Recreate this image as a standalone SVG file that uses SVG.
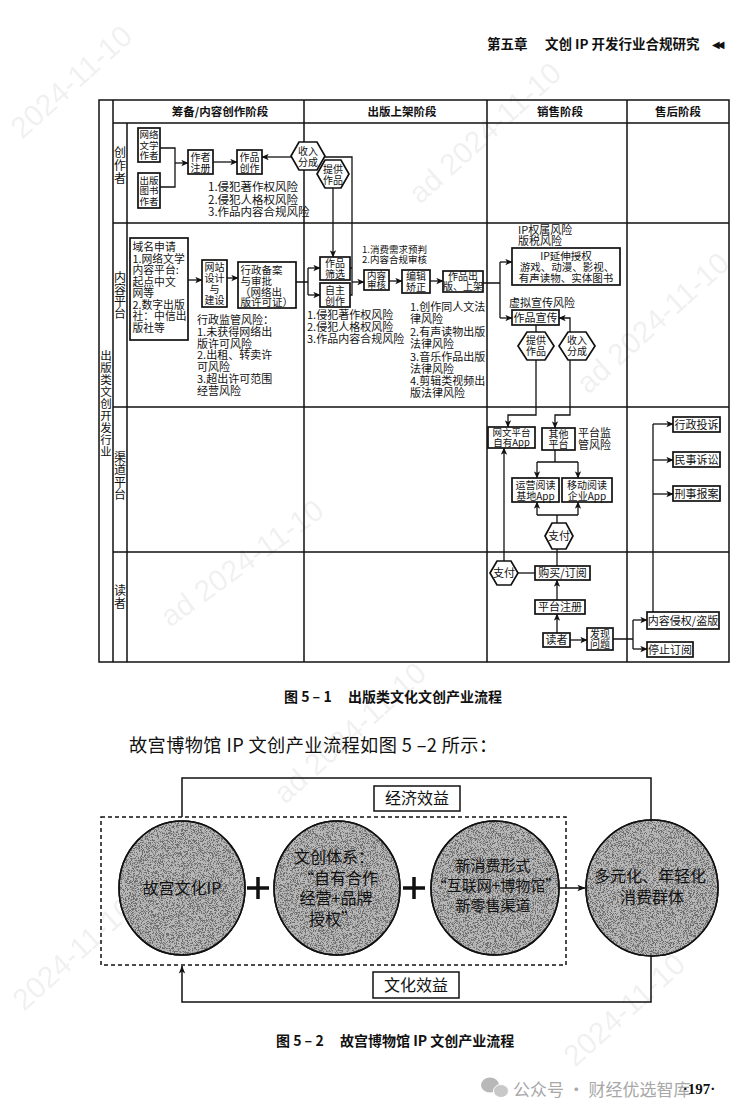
<svg xmlns="http://www.w3.org/2000/svg" width="744" height="1119" viewBox="0 0 744 1119">
<defs>
<style>
.t{font-family:"Noto Sans CJK SC","Liberation Serif",serif;fill:#111;font-size:11px}
.s{font-size:10px}
.c{text-anchor:middle}
.h{font-weight:bold}
.b{fill:#fff;stroke:#111;stroke-width:1.7}
.g{fill:none;stroke:#111;stroke-width:1.5}
.l{fill:none;stroke:#111;stroke-width:1.3}
.a{marker-end:url(#ar)}
.a2{marker-end:url(#ar2)}
.wm{font-family:"Liberation Sans",sans-serif;font-size:30px;fill:#000;opacity:0.055}
.big{font-size:16px}
.circ{fill:#b9b9b9;stroke:#111;stroke-width:1.5}
</style>
<marker id="ar" viewBox="0 0 10 10" refX="9.5" refY="5" markerWidth="7" markerHeight="7" markerUnits="userSpaceOnUse" orient="auto"><path d="M0,0.5 L10,5 L0,9.5 L2.5,5 z" fill="#111"/></marker>
<marker id="ar2" viewBox="0 0 10 10" refX="9.5" refY="5" markerWidth="8" markerHeight="8" markerUnits="userSpaceOnUse" orient="auto"><path d="M0,1 L10,5 L0,9 L2.5,5 z" fill="#111"/></marker>
<filter id="grain" x="0" y="0" width="100%" height="100%">
<feTurbulence type="fractalNoise" baseFrequency="1.4" numOctaves="2" seed="5" result="n"/>
<feColorMatrix in="n" type="matrix" values="0 0 0 0 0.15  0 0 0 0 0.15  0 0 0 0 0.15  7 0 0 0 -3.3" result="d"/>
<feComposite in="d" in2="SourceGraphic" operator="in"/>
</filter>
</defs>
<rect width="744" height="1119" fill="#fff"/>

<g id="watermarks">
<text class="wm" transform="translate(22,140) rotate(-42)">2024-11-10</text>
<text class="wm" transform="translate(420,205) rotate(-42)">ad 2024-11-10</text>
<text class="wm" transform="translate(588,395) rotate(-42)">ad 2024-11-10</text>
<text class="wm" transform="translate(170,628) rotate(-36)">ad 2024-11-10</text>
<text class="wm" transform="translate(285,805) rotate(-42)">ad 2024-11-10</text>
<text class="wm" transform="translate(24,1012) rotate(-42)">2024-11-10</text>
<text class="wm" transform="translate(575,1068) rotate(-42)">2024-11-10</text>
</g>

<g id="page-header">
<text class="t h" x="487" y="49" style="font-size:13.5px">第五章</text>
<text class="t h" x="545" y="49" style="font-size:13.5px">文创 IP 开发行业合规研究</text>
<text x="712" y="48" style="font-family:'DejaVu Sans',sans-serif;font-size:10px;fill:#111;letter-spacing:-3px">◀◀</text>
</g>

<g id="swimlane-grid">
<rect x="99" y="100" width="630" height="562" class="g" fill="none"/>
<path class="g" d="M113,100 V662 M127,123 V662 M113,123 H729 M113,223 H729 M113,407 H729 M113,552 H729 M304,100 V662 M487,100 V662 M627,100 V662"/>
<text class="t c h" style="font-size:11.5px"><tspan x="220" y="116">筹备/内容创作阶段</tspan><tspan x="402" y="116">出版上架阶段</tspan><tspan x="560" y="116">销售阶段</tspan><tspan x="678" y="116">售后阶段</tspan></text>
<text class="t c" style="font-size:11.5px"><tspan x="106" y="360">出</tspan><tspan x="106" y="372">版</tspan><tspan x="106" y="384">类</tspan><tspan x="106" y="396">文</tspan><tspan x="106" y="408">创</tspan><tspan x="106" y="420">开</tspan><tspan x="106" y="432">发</tspan><tspan x="106" y="444">行</tspan><tspan x="106" y="456">业</tspan></text>
<text class="t c" style="font-size:12px"><tspan x="120" y="157">创</tspan><tspan x="120" y="170">作</tspan><tspan x="120" y="183">者</tspan></text>
<text class="t c" style="font-size:12px"><tspan x="120" y="282">内</tspan><tspan x="120" y="294">容</tspan><tspan x="120" y="306">平</tspan><tspan x="120" y="318">台</tspan></text>
<text class="t c" style="font-size:12px"><tspan x="120" y="462">渠</tspan><tspan x="120" y="474">道</tspan><tspan x="120" y="487">平</tspan><tspan x="120" y="499">台</tspan></text>
<text class="t c" style="font-size:12px"><tspan x="120" y="595">读</tspan><tspan x="120" y="608">者</tspan></text>
</g>

<g id="connectors">
<path class="l" d="M160,148 H175 V187 H160"/>
<path class="l a" d="M175,163 H188"/>
<path class="l a" d="M213,162 H237"/>
<path class="l a" d="M291,157 H262"/>
<path class="l" d="M325,157 H352 V295 H350 M350,268 H352"/>
<path class="l a" d="M352,282 H364"/>
<path class="l a" d="M333,188 V257"/>
<path class="l a" d="M188,280 H202"/>
<path class="l a" d="M227,278 H238"/>
<path class="l" d="M296,282 H308 M308,268 V295"/>
<path class="l a" d="M308,268 H320"/>
<path class="l a" d="M308,295 H320"/>
<path class="l a" d="M389,281 H402"/>
<path class="l a" d="M430,281 H443"/>
<path class="l" d="M483,283 H500 M500,262 V318"/>
<path class="l a" d="M500,262 H512"/>
<path class="l a" d="M500,318 H512"/>
<path class="l" d="M536,325 V332"/>
<path class="l a" d="M570,332 V318 H559"/>
<path class="l a" d="M536,360 V415 H508 V427"/>
<path class="l a" d="M570,360 V415 H555 V428"/>
<path class="l" d="M555,450 V462 M537,462 H578"/>
<path class="l a" d="M537,462 V478"/>
<path class="l a" d="M578,462 V478"/>
<path class="l" d="M557,523 V515 M537,515 H578"/>
<path class="l a" d="M537,515 V502"/>
<path class="l a" d="M578,515 V502"/>
<path class="l" d="M557,549 V566"/>
<path class="l" d="M518,573 H535"/>
<path class="l a" d="M504,561 V448"/>
<path class="l a" d="M557,600 V580"/>
<path class="l a" d="M557,633 V614"/>
<path class="l a" d="M570,640 H587"/>
<path class="l" d="M613,639 H633 M633,620 V649"/>
<path class="l a" d="M633,620 H647"/>
<path class="l a" d="M633,649 H647"/>
<path class="l" d="M653,612 V424"/>
<path class="l a" d="M653,424 H673"/>
<path class="l a" d="M653,460 H673"/>
<path class="l a" d="M653,494 H673"/>
</g>

<g id="n-wangluowenxue"><rect class="b" x="138" y="128" width="22" height="34"/><text class="t c" style="font-size:9.5px"><tspan x="149" y="138">网络</tspan><tspan x="149" y="148.5">文学</tspan><tspan x="149" y="159">作者</tspan></text></g>
<g id="n-chubantushu"><rect class="b" x="138" y="173" width="22" height="35"/><text class="t c" style="font-size:9.5px"><tspan x="149" y="183.5">出版</tspan><tspan x="149" y="194">图书</tspan><tspan x="149" y="204.5">作者</tspan></text></g>
<g id="n-zuozhezhuce"><rect class="b" x="188" y="150" width="25" height="24"/><text class="t c s"><tspan x="200.5" y="160.5">作者</tspan><tspan x="200.5" y="171.5">注册</tspan></text></g>
<g id="n-zuopinchuangzuo"><rect class="b" x="237" y="150" width="25" height="24"/><text class="t c s"><tspan x="249.5" y="160.5">作品</tspan><tspan x="249.5" y="171.5">创作</tspan></text></g>
<g id="n-shourufencheng1"><polygon class="b" points="291,156 299,142 317,142 325,156 317,170 299,170"/><text class="t c s"><tspan x="308" y="154.5">收入</tspan><tspan x="308" y="165.5">分成</tspan></text></g>
<g id="n-tigongzuopin1"><polygon class="b" points="317,174 325,160 341,160 349,174 341,188 325,188"/><text class="t c s"><tspan x="333" y="172.5">提供</tspan><tspan x="333" y="183.5">作品</tspan></text></g>
<g id="risk-author"><text class="t" style="font-size:11.5px"><tspan x="208" y="191">1.侵犯著作权风险</tspan><tspan x="208" y="203.5">2.侵犯人格权风险</tspan><tspan x="208" y="216">3.作品内容合规风险</tspan></text></g>

<g id="n-yuming"><rect class="b" x="130" y="238" width="58" height="102"/><text class="t" style="font-size:10.8px"><tspan x="132.5" y="251">域名申请</tspan><tspan x="132.5" y="262.5">1.网络文学</tspan><tspan x="132.5" y="274">内容平台:</tspan><tspan x="132.5" y="285.5">起点中文</tspan><tspan x="132.5" y="297">网等</tspan><tspan x="132.5" y="308.5">2.数字出版</tspan><tspan x="132.5" y="320">社：中信出</tspan><tspan x="132.5" y="331.5">版社等</tspan></text></g>
<g id="n-wangzhan"><rect class="b" x="202" y="260" width="25" height="47"/><text class="t c s"><tspan x="214.5" y="270.5">网站</tspan><tspan x="214.5" y="281.5">设计</tspan><tspan x="214.5" y="292.5">与</tspan><tspan x="214.5" y="303.5">建设</tspan></text></g>
<g id="n-xingzhengbeian"><rect class="b" x="238" y="262" width="58" height="46"/><text class="t" style="font-size:10.5px"><tspan x="240.5" y="274">行政备案</tspan><tspan x="240.5" y="284.5">与审批</tspan><tspan x="240" y="296">（网络出</tspan><tspan x="240.5" y="306">版许可证）</tspan></text></g>
<g id="risk-platform"><text class="t" style="font-size:11px"><tspan x="197" y="324">行政监管风险：</tspan><tspan x="197" y="336">1.未获得网络出</tspan><tspan x="197" y="347.5">版许可风险</tspan><tspan x="197" y="359">2.出租、转卖许</tspan><tspan x="197" y="371">可风险</tspan><tspan x="197" y="382.5">3.超出许可范围</tspan><tspan x="197" y="395">经营风险</tspan></text></g>

<g id="n-zuopinshaixuan"><rect class="b" x="320" y="257" width="30" height="23"/><text class="t c s"><tspan x="335" y="267">作品</tspan><tspan x="335" y="277.5">筛选</tspan></text></g>
<g id="n-zizhuchuangzuo"><rect class="b" x="320" y="283" width="30" height="24"/><text class="t c s"><tspan x="335" y="293.5">自主</tspan><tspan x="335" y="304.5">创作</tspan></text></g>
<g id="note-review"><text class="t" style="font-size:9.5px"><tspan x="362" y="252.5">1.消费需求预判</tspan><tspan x="362" y="263">2.内容合规审核</tspan></text></g>
<g id="n-neirongshenhe"><rect class="b" x="364" y="270" width="25" height="20"/><text class="t c" style="font-size:9.5px"><tspan x="376.5" y="279">内容</tspan><tspan x="376.5" y="288">审核</tspan></text></g>
<g id="n-bianjijiaozheng"><rect class="b" x="402" y="270" width="28" height="23"/><text class="t c s"><tspan x="416" y="280">编辑</tspan><tspan x="416" y="290.5">矫正</tspan></text></g>
<g id="n-zuopinchuban"><rect class="b" x="443" y="271" width="40" height="21"/><text class="t c s"><tspan x="463" y="280">作品出</tspan><tspan x="463" y="290">版、上架</tspan></text></g>
<g id="risk-publish1"><text class="t" style="font-size:11px"><tspan x="307" y="319">1.侵犯著作权风险</tspan><tspan x="307" y="331">2.侵犯人格权风险</tspan><tspan x="307" y="343">3.作品内容合规风险</tspan></text></g>
<g id="risk-publish2"><text class="t" style="font-size:11px"><tspan x="410" y="311">1.创作同人文法</tspan><tspan x="410" y="323">律风险</tspan><tspan x="410" y="336">2.有声读物出版</tspan><tspan x="410" y="347.5">法律风险</tspan><tspan x="410" y="361">3.音乐作品出版</tspan><tspan x="410" y="372.5">法律风险</tspan><tspan x="410" y="384.5">4.剪辑类视频出</tspan><tspan x="410" y="397">版法律风险</tspan></text></g>

<g id="risk-ip"><text class="t" style="font-size:11px"><tspan x="518" y="234">IP权属风险</tspan><tspan x="518" y="245">版税风险</tspan></text></g>
<g id="n-ipyanshen"><rect class="b" x="512" y="248" width="108" height="37"/><text class="t c" style="font-size:10.5px"><tspan x="566" y="259.5">IP延伸授权</tspan><tspan x="567" y="270.5">游戏、动漫、影视、</tspan><tspan x="566" y="281.5">有声读物、实体图书</tspan></text></g>
<g id="risk-virtual"><text class="t" x="509" y="307" style="font-size:11px">虚拟宣传风险</text></g>
<g id="n-zuopinxuanchuan"><rect class="b" x="512" y="310" width="47" height="15"/><text class="t c" x="535.5" y="321.5">作品宣传</text></g>
<g id="n-tigongzuopin2"><polygon class="b" points="518,346 527,332 545,332 554,346 545,360 527,360"/><text class="t c s"><tspan x="536" y="344">提供</tspan><tspan x="536" y="355">作品</tspan></text></g>
<g id="n-shourufencheng2"><polygon class="b" points="559,346 568,332 586,332 595,346 586,360 568,360"/><text class="t c s"><tspan x="577" y="344">收入</tspan><tspan x="577" y="355">分成</tspan></text></g>

<g id="n-wangwenapp"><rect class="b" x="488" y="427" width="47" height="21"/><text class="t c" style="font-size:9.5px"><tspan x="511.5" y="436">网文平台</tspan><tspan x="511.5" y="446">自有App</tspan></text></g>
<g id="n-qitapingtai"><rect class="b" x="542" y="428" width="33" height="22"/><text class="t c s"><tspan x="558.5" y="437.5">其他</tspan><tspan x="558.5" y="448">平台</tspan></text></g>
<g id="risk-supervise"><text class="t" style="font-size:11px"><tspan x="578" y="437">平台监</tspan><tspan x="578" y="449">管风险</tspan></text></g>
<g id="n-yunying"><rect class="b" x="512" y="478" width="47" height="24"/><text class="t c s"><tspan x="535.5" y="488.5">运营阅读</tspan><tspan x="535.5" y="499.5">基地App</tspan></text></g>
<g id="n-yidong"><rect class="b" x="562" y="478" width="50" height="24"/><text class="t c s"><tspan x="587" y="488.5">移动阅读</tspan><tspan x="587" y="499.5">企业App</tspan></text></g>
<g id="n-zhifu1"><polygon class="b" points="545,536 552,523 566,523 573,536 566,549 552,549"/><text class="t c" x="559" y="540">支付</text></g>

<g id="n-zhifu2"><polygon class="b" points="490,573 497,561 511,561 518,573 511,585 497,585"/><text class="t c" x="504" y="577">支付</text></g>
<g id="n-goumai"><rect class="b" x="535" y="566" width="55" height="14"/><text class="t c" x="562.5" y="577">购买/订阅</text></g>
<g id="n-pingtaizhuce"><rect class="b" x="535" y="600" width="50" height="14"/><text class="t c" x="560" y="611">平台注册</text></g>
<g id="n-duzhe"><rect class="b" x="543" y="633" width="27" height="14"/><text class="t c" x="556.5" y="644">读者</text></g>
<g id="n-faxianwenti"><rect class="b" x="587" y="628" width="26" height="22"/><text class="t c s"><tspan x="600" y="637.5">发现</tspan><tspan x="600" y="648">问题</tspan></text></g>
<g id="n-qinquan"><rect class="b" x="647" y="612" width="72" height="17"/><text class="t c" x="683" y="624.5">内容侵权/盗版</text></g>
<g id="n-tingzhi"><rect class="b" x="647" y="642" width="46" height="15"/><text class="t c" x="670" y="653.5">停止订阅</text></g>
<g id="n-xingzheng"><rect class="b" x="673" y="417" width="47" height="15"/><text class="t c" x="696.5" y="428.5">行政投诉</text></g>
<g id="n-minshi"><rect class="b" x="673" y="452" width="47" height="15"/><text class="t c" x="696.5" y="463.5">民事诉讼</text></g>
<g id="n-xingshi"><rect class="b" x="673" y="486" width="47" height="15"/><text class="t c" x="696.5" y="497.5">刑事报案</text></g>

<g id="caption1"><text class="t h" y="702" style="font-size:14px"><tspan x="284">图 5 – 1</tspan><tspan x="348">出版类文化文创产业流程</tspan></text></g>

<g id="paragraph"><text class="t" x="129" y="752" style="font-size:18.2px;letter-spacing:0.4px">故宫博物馆 IP 文创产业流程如图 5 –2 所示：</text></g>

<g id="fig2-connectors">
<path class="g" d="M182,817 V778 H651 V822"/>
<path class="g a2" d="M651,955 V1002 H182 V966"/>
<path class="g a2" d="M559,888 H585"/>
<path d="M247,888 H269 M258,877 V899 M403,888 H425 M414,877 V899" stroke="#111" stroke-width="3.5" fill="none"/>
</g>
<g id="dashed-group"><rect x="101" y="817" width="465" height="148" fill="none" stroke="#111" stroke-width="1.5" stroke-dasharray="4,3"/></g>
<g id="n-jingjixiaoyi"><rect x="374" y="786" width="86" height="25" fill="#fff" stroke="#111" stroke-width="1.5"/><text class="t c big" x="417" y="804">经济效益</text></g>
<g id="n-wenhuaxiaoyi"><rect x="373" y="972" width="86" height="26" fill="#fff" stroke="#111" stroke-width="1.5"/><text class="t c big" x="416" y="991">文化效益</text></g>

<g id="n-gugong"><ellipse class="circ" cx="182" cy="888" rx="63" ry="67"/><ellipse cx="182" cy="888" rx="63" ry="67" filter="url(#grain)"/><ellipse cx="182" cy="888" rx="63" ry="67" fill="none" stroke="#111" stroke-width="1.5"/><text class="t c big" x="182" y="894">故宫文化IP</text></g>
<g id="n-wenchuang"><ellipse class="circ" cx="337" cy="888" rx="63" ry="67"/><ellipse cx="337" cy="888" rx="63" ry="67" filter="url(#grain)"/><ellipse cx="337" cy="888" rx="63" ry="67" fill="none" stroke="#111" stroke-width="1.5"/><text class="t c big"><tspan x="334" y="863">文创体系：</tspan><tspan x="338" y="883.5">“自有合作</tspan><tspan x="336" y="904">经营+品牌</tspan><tspan x="333" y="924.5">授权”</tspan></text></g>
<g id="n-xinxiaofei"><ellipse class="circ" cx="495" cy="888" rx="64" ry="67"/><ellipse cx="495" cy="888" rx="64" ry="67" filter="url(#grain)"/><ellipse cx="495" cy="888" rx="64" ry="67" fill="none" stroke="#111" stroke-width="1.5"/><text class="t c" style="font-size:15px"><tspan x="493" y="871">新消费形式</tspan><tspan x="496" y="891">“互联网+博物馆”</tspan><tspan x="493" y="911">新零售渠道</tspan></text></g>
<g id="n-duoyuanhua"><ellipse class="circ" cx="652" cy="888" rx="66" ry="68"/><ellipse cx="652" cy="888" rx="66" ry="68" filter="url(#grain)"/><ellipse cx="652" cy="888" rx="66" ry="68" fill="none" stroke="#111" stroke-width="1.5"/><text class="t c big"><tspan x="650" y="882">多元化、年轻化</tspan><tspan x="652" y="903">消费群体</tspan></text></g>

<g id="caption2"><text class="t h" y="1046" style="font-size:14px"><tspan x="276">图 5 – 2</tspan><tspan x="340">故宫博物馆 IP 文创产业流程</tspan></text></g>

<g id="footer">
<ellipse cx="490" cy="1085" rx="9" ry="7.5" fill="#b8b8b8"/>
<ellipse cx="501" cy="1091" rx="7.5" ry="6.5" fill="#c8c8c8" stroke="#fff" stroke-width="1"/>
<text x="513" y="1096" style="font-family:'Noto Sans CJK SC',sans-serif;font-size:17px;fill:#a8a8a8">公众号 · 财经优选智库</text>
<text x="699" y="1094" text-anchor="middle" style="font-family:'Liberation Serif',serif;font-size:15px;font-weight:bold;fill:#111">·197·</text>
</g>
</svg>
